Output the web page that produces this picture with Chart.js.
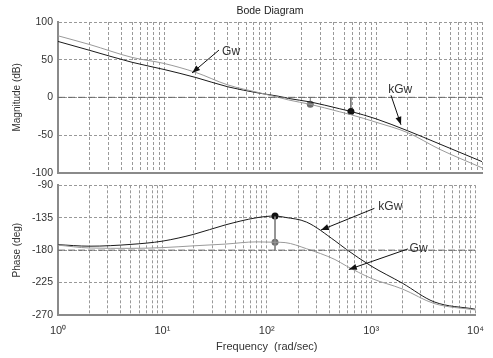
<!DOCTYPE html>
<html>
<head>
<meta charset="utf-8">
<script src="https://cdn.jsdelivr.net/npm/chart.js@4.4.0/dist/chart.umd.min.js"></script>
<style>
  html, body { margin: 0; padding: 0; background: #fff; }
  #wrap { position: relative; width: 493px; height: 358px; }
  canvas { position: absolute; left: 0; }
</style>
</head>
<body>
<div id="wrap">
  <canvas id="mag" width="493" height="184" style="top:0"></canvas>
  <canvas id="phase" width="493" height="184" style="top:174px"></canvas>
</div>
<script>
// frequency samples (rad/sec)
const freq = [1, 2, 5, 10, 20, 40, 80, 120, 150, 240, 450, 580, 1000, 2000, 4000, 10000];
const magGw    = [81.7, 70, 53, 45, 33, 16.5, 6, 0, -3.5, -9.3, -19, -23, -33, -47, -69, -93.5];
const magKGw   = [74.2, 62.3, 46.5, 37, 26.3, 14, 5.5, 1.5, -1.5, -6.1, -15, -18.7, -28.5, -44.5, -62, -85.3];
const phaseGw  = [-173, -177, -177.5, -176.5, -174, -171.6, -168.5, -169, -169.5, -178, -193, -202, -219, -234, -254, -263];
const phaseKGw = [-172.4, -174.5, -172, -167.5, -158, -145, -135, -132.6, -134.5, -141, -167, -179, -202, -226, -251.7, -262];

// margin markers: [Gw, kGw]
const gmFreq = [240, 580];
const gmMag = [-9.3, -18.7];
const pmFreq = [120, 120];
const pmPhase = [-169, -132.6];

const magRef = 0;
const phaseRef = -180;

const decades = [1, 10, 100, 1000];
const gridFreqs = decades.flatMap(d => [1, 2, 3, 4, 5, 6, 7, 8, 9].map(m => m * d)).concat([10000]);
const sup = ['\u2070', '\u00b9', '\u00b2', '\u00b3', '\u2074'];

const magNotes = [
  { text: 'Gw', tx: 35.3, ty: 60.4, x0: 33, y0: 62.7, x1: 18.4, y1: 32.4 },
  { text: 'kGw', tx: 1306, ty: 10.4, x0: 1385, y0: 2.7, x1: 1721, y1: -36.4 }
];
const phaseNotes = [
  { text: 'kGw', tx: 1172, ty: -120, x0: 1074, y0: -122, x1: 330, y1: -152.2 },
  { text: 'Gw', tx: 2334, ty: -177.7, x0: 2249, y0: -178.3, x1: 611, y1: -206.8 }
];

const FONT = "'Liberation Sans', Arial, sans-serif";
Chart.defaults.font.family = FONT;
Chart.defaults.color = '#333';

const pts = (xs, ys) => xs.map((x, i) => ({ x: x, y: ys[i] }));

const notesPlugin = {
  id: 'notes',
  afterDatasetsDraw(chart, args, opts) {
    const ctx = chart.ctx;
    const xs = chart.scales.x, ys = chart.scales.y;
    ctx.save();
    opts.items.forEach(n => {
      const x0 = xs.getPixelForValue(n.x0), y0 = ys.getPixelForValue(n.y0);
      const x1 = xs.getPixelForValue(n.x1), y1 = ys.getPixelForValue(n.y1);
      ctx.strokeStyle = '#111';
      ctx.fillStyle = '#111';
      ctx.lineWidth = 1;
      ctx.beginPath();
      ctx.moveTo(x0, y0);
      ctx.lineTo(x1, y1);
      ctx.stroke();
      const a = Math.atan2(y1 - y0, x1 - x0);
      const L = 8, W = 3;
      ctx.beginPath();
      ctx.moveTo(x1, y1);
      ctx.lineTo(x1 - L * Math.cos(a) + W * Math.sin(a), y1 - L * Math.sin(a) - W * Math.cos(a));
      ctx.lineTo(x1 - L * Math.cos(a) - W * Math.sin(a), y1 - L * Math.sin(a) + W * Math.cos(a));
      ctx.closePath();
      ctx.fill();
      ctx.fillStyle = '#333';
      ctx.font = '12px ' + FONT;
      ctx.textAlign = 'left';
      ctx.textBaseline = 'middle';
      ctx.fillText(n.text, xs.getPixelForValue(n.tx), ys.getPixelForValue(n.ty));
    });
    ctx.restore();
  }
};

function xAxis(showLabels) {
  return {
    type: 'logarithmic',
    min: 1,
    max: 10000,
    afterBuildTicks: s => { s.ticks = gridFreqs.map(v => ({ value: v })); },
    afterFit: s => { s.height = showLabels ? 43 : 0; },
    grid: { color: '#999', lineWidth: 1, drawTicks: false },
    border: { display: true, color: '#8a8a8a', width: 2, dash: [3, 2] },
    ticks: {
      display: showLabels,
      autoSkip: false,
      maxRotation: 0,
      padding: 9,
      font: { size: 11 },
      callback: v => {
        const e = Math.round(Math.log10(v));
        return Math.abs(Math.pow(10, e) - v) < 1e-6 ? '10' + sup[e] : '';
      }
    },
    title: {
      display: showLabels,
      text: 'Frequency  (rad/sec)',
      font: { size: 11 },
      padding: { top: 0, bottom: 4.4 }
    }
  };
}

function yAxis(min, max, step, label) {
  return {
    min: min,
    max: max,
    afterFit: s => { s.width = 58; },
    grid: { color: '#999', lineWidth: 1, drawTicks: false },
    border: { display: true, color: '#8a8a8a', width: 2, dash: [3, 2] },
    ticks: { stepSize: step, padding: 5, font: { size: 10.5 } },
    title: { display: true, text: label, font: { size: 10 }, padding: { top: 11.5, bottom: 0 } }
  };
}

function lineSet(data, color) {
  return {
    data: data, borderColor: color, borderWidth: 1, pointRadius: 0,
    cubicInterpolationMode: 'monotone', fill: false
  };
}

function refSet(y) {
  return {
    data: [{ x: freq[0], y: y }, { x: freq[freq.length - 1], y: y }],
    borderColor: '#666', borderWidth: 1, borderDash: [7, 3], pointRadius: 0, fill: false
  };
}

function dropSet(x, y, refY, color) {
  return {
    data: [{ x: x, y: y }, { x: x, y: refY }],
    borderColor: color, borderWidth: 1, pointRadius: 0, fill: false
  };
}

function dotSet(data, colors) {
  return {
    data: data, showLine: false, pointRadius: 3.5,
    pointBackgroundColor: colors, pointBorderColor: colors, borderWidth: 0
  };
}

new Chart(document.getElementById('mag'), {
  type: 'line',
  data: {
    datasets: [
      refSet(magRef),
      lineSet(pts(freq, magGw), '#9a9a9a'),
      lineSet(pts(freq, magKGw), '#1a1a1a'),
      dropSet(gmFreq[0], gmMag[0], magRef, '#777'),
      dropSet(gmFreq[1], gmMag[1], magRef, '#1a1a1a'),
      dotSet(pts(gmFreq, gmMag), ['#6e6e6e', '#111'])
    ]
  },
  options: {
    responsive: false,
    animation: false,
    devicePixelRatio: 1,
    layout: { padding: { left: 0, right: 11, top: 0, bottom: 0 } },
    plugins: {
      legend: { display: false },
      tooltip: { enabled: false },
      title: {
        display: true, text: 'Bode Diagram', color: '#222', fullSize: false,
        font: { size: 10.5, weight: 'normal' }, padding: { top: 5, bottom: 4.4 }
      },
      notes: { items: magNotes }
    },
    scales: { x: xAxis(false), y: yAxis(-100, 100, 50, 'Magnitude (dB)') }
  },
  plugins: [notesPlugin]
});

new Chart(document.getElementById('phase'), {
  type: 'line',
  data: {
    datasets: [
      refSet(phaseRef),
      lineSet(pts(freq, phaseGw), '#9a9a9a'),
      lineSet(pts(freq, phaseKGw), '#1a1a1a'),
      dropSet(pmFreq[1], pmPhase[1], phaseRef, '#888'),
      dotSet(pts(pmFreq, pmPhase), ['#6e6e6e', '#111'])
    ]
  },
  options: {
    responsive: false,
    animation: false,
    devicePixelRatio: 1,
    layout: { padding: { left: 0, right: 11, top: 0, bottom: 0 } },
    plugins: {
      legend: { display: false },
      tooltip: { enabled: false },
      notes: { items: phaseNotes }
    },
    scales: { x: xAxis(true), y: yAxis(-270, -90, 45, 'Phase (deg)') }
  },
  plugins: [notesPlugin]
});
</script>
</body>
</html>
